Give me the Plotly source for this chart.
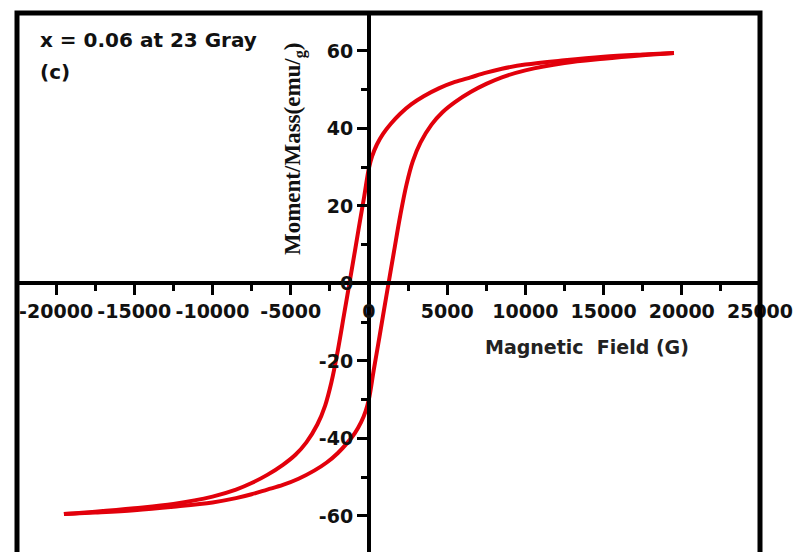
import plotly.graph_objects as go

# Descending branch (field swept from +sat to -sat), G and emu/g
H_down = [19500, 17500, 15000, 12500, 10000, 8500, 7500, 6500, 5500, 4500, 3500,
          2700, 2000, 1400, 900, 500, 200, 0, -300, -600, -900, -1250, -1600,
          -2000, -2400, -2800, -3300, -4000, -4700, -5500, -6500, -7500, -8500,
          -10000, -12500, -15000, -17500, -19500]
M_down = [59.5, 59.1, 58.5, 57.6, 56.5, 55.4, 54.4, 53.2, 52.0, 50.4, 48.3,
          46.2, 43.8, 41.2, 38.6, 35.8, 32.8, 29.8, 22.5, 15.5, 8.3, 0.0, -8.2,
          -17.5, -25.5, -31.5, -36.4, -41.0, -44.2, -46.8, -49.4, -51.5, -53.2,
          -55.0, -56.9, -58.0, -58.9, -59.5]

# Ascending branch (field swept from -sat to +sat)
H_up = [-19500, -17500, -15000, -12500, -10000, -8500, -7500, -6500, -5500, -4500,
        -3500, -2700, -2000, -1400, -900, -500, -200, 0, 300, 600, 900, 1250, 1600,
        2000, 2400, 2800, 3300, 4000, 4700, 5500, 6500, 7500, 8500, 10000, 12500,
        15000, 17500, 19500]
M_up = [-59.5, -59.1, -58.5, -57.6, -56.5, -55.4, -54.4, -53.2, -52.0, -50.4,
        -48.3, -46.2, -43.8, -41.2, -38.6, -35.8, -32.8, -29.8, -22.5, -15.5, -8.3,
        0.0, 8.2, 17.5, 25.5, 31.5, 36.4, 41.0, 44.2, 46.8, 49.4, 51.5, 53.2, 55.0,
        56.9, 58.0, 58.9, 59.5]

x_ticks = [-20000, -15000, -10000, -5000, 0, 5000, 10000, 15000, 20000, 25000]
x_ticktext = ["-20000", "-15000", "-10000", "-5000", "0", "5000", "10000",
              "15000", "20000", "25000"]
y_ticks = [-60, -40, -20, 0, 20, 40, 60]
y_ticktext = ["-60", "-40", "-20", "0", "20", "40", "60"]

RED = "#e2000b"
tick_font = dict(family="DejaVu Sans", size=19, color="#111", weight="bold")

fig = go.Figure()
for hx, my in ((H_down, M_down), (H_up, M_up)):
    fig.add_trace(go.Scatter(x=hx, y=my, mode="lines",
                             line=dict(color=RED, width=4, shape="spline", smoothing=1.0),
                             showlegend=False))

x_range = [-22500, 25000]
y_range = [-69.3, 69.8]
xpos = (0 - y_range[0]) / (y_range[1] - y_range[0])
ypos = (0 - x_range[0]) / (x_range[1] - x_range[0])

fig.update_layout(
    width=799, height=552,
    margin=dict(l=17, r=39, t=13, b=0),
    plot_bgcolor="white", paper_bgcolor="white",
    xaxis=dict(range=x_range, anchor="free", position=xpos,
               showline=True, linecolor="black", linewidth=4,
               showgrid=False, zeroline=False,
               tickmode="array", tickvals=x_ticks, ticktext=x_ticktext,
               ticks="outside", ticklen=10, tickwidth=3, tickcolor="black",
               minor=dict(ticks="outside", ticklen=6, tickwidth=3, dtick=2500,
                          tick0=0, tickcolor="black"),
               tickfont=tick_font, layer="above traces"),
    yaxis=dict(range=y_range, anchor="free", position=ypos,
               showline=True, linecolor="black", linewidth=4,
               showgrid=False, zeroline=False,
               tickmode="array", tickvals=y_ticks, ticktext=y_ticktext,
               ticks="outside", ticklen=10, tickwidth=3, tickcolor="black",
               minor=dict(ticks="outside", ticklen=6, tickwidth=3, dtick=10,
                          tick0=0, tickcolor="black"),
               tickfont=tick_font, layer="above traces"),
    shapes=[dict(type="rect", xref="paper", yref="paper", x0=0, x1=1, y0=-0.02, y1=1,
                 line=dict(color="black", width=5), fillcolor="rgba(0,0,0,0)")],
    annotations=[
        dict(text="x = 0.06 at 23 Gray", xref="paper", yref="paper",
             x=(38 - 17) / 743, y=(552 - 40) / 539, xanchor="left", yanchor="middle",
             showarrow=False, font=dict(family="DejaVu Sans", size=20, color="#111", weight="bold")),
        dict(text="(c)", xref="paper", yref="paper",
             x=(38 - 17) / 743, y=(552 - 72) / 539, xanchor="left", yanchor="middle",
             showarrow=False, font=dict(family="DejaVu Sans", size=20, color="#111", weight="bold")),
        dict(text="Magnetic\u00a0 Field (G)", xref="paper", yref="paper",
             x=(587 - 17) / 743, y=(552 - 347) / 539, xanchor="center", yanchor="middle",
             showarrow=False, font=dict(family="DejaVu Sans", size=19, color="#222", weight="bold")),
        dict(text="Moment/Mass(emu/<sub>g</sub>)", xref="paper", yref="paper",
             x=(295 - 17) / 743, y=(552 - 149) / 539, xanchor="center", yanchor="middle",
             textangle=-90, showarrow=False,
             font=dict(family="Liberation Serif", size=23, color="#111", weight="bold")),
    ],
)

fig.write_html("out.html")
